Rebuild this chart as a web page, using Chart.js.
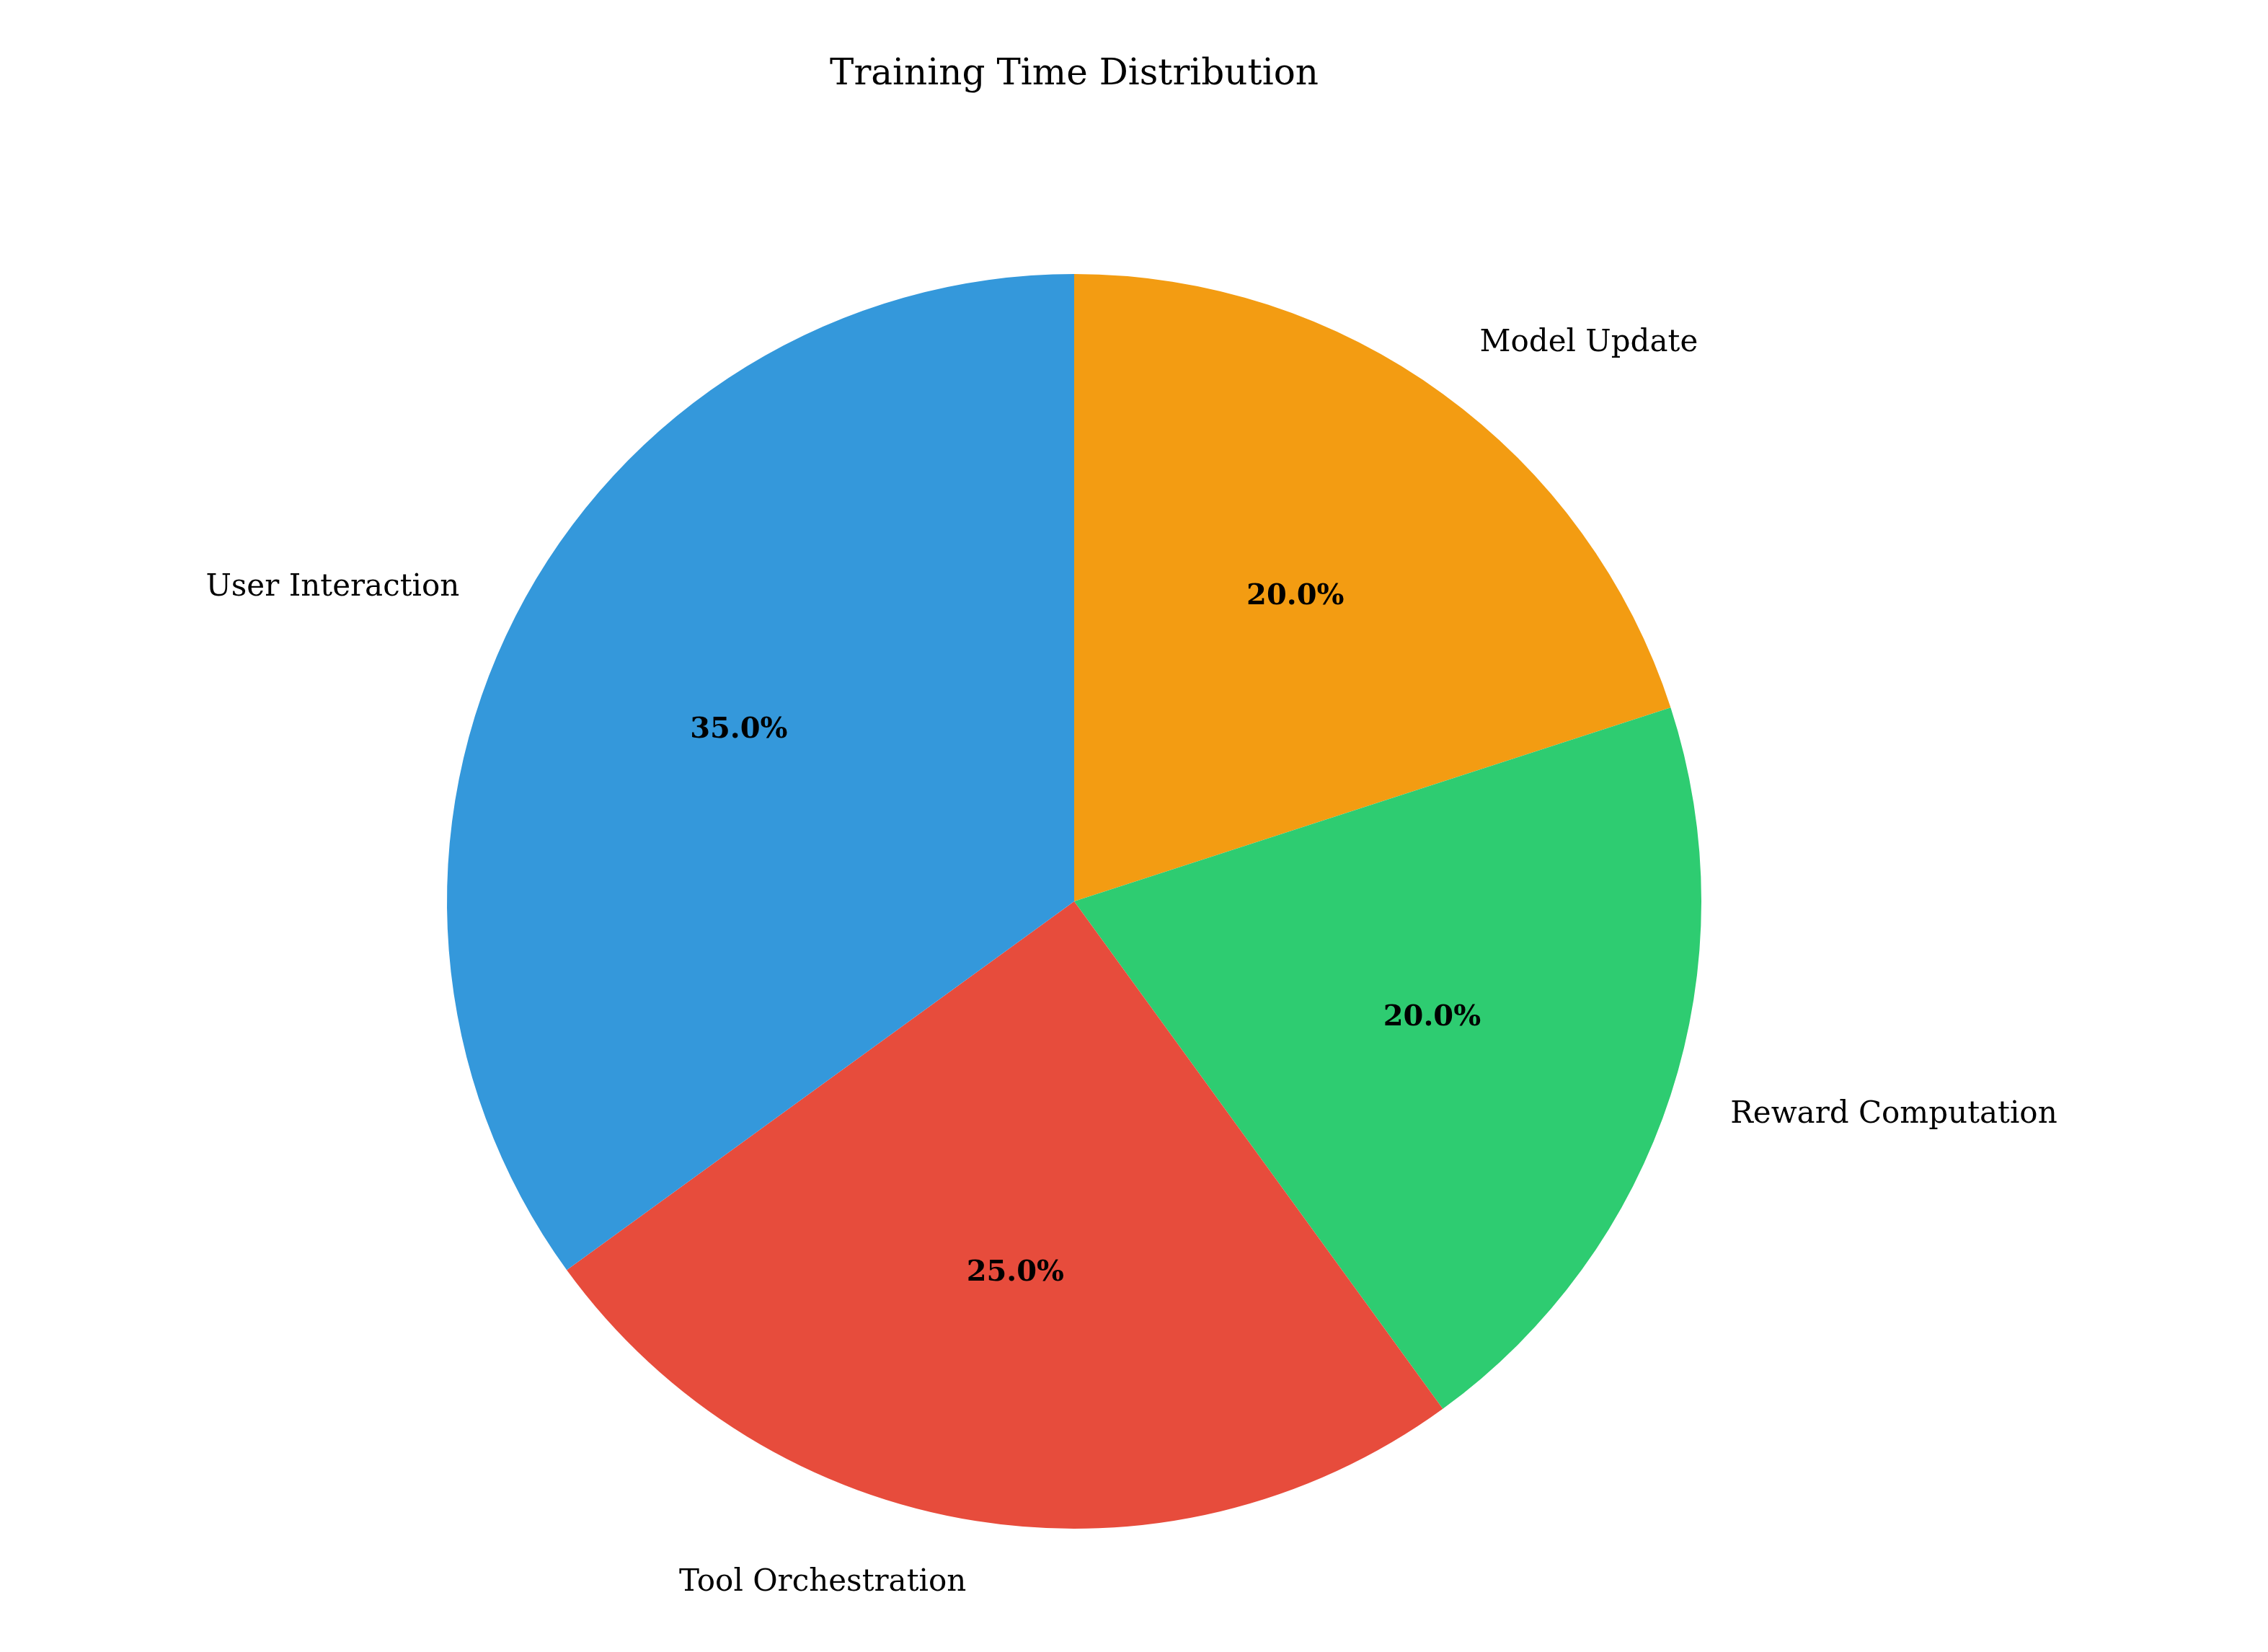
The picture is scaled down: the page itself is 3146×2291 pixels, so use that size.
<!DOCTYPE html>
<html>
<head>
<meta charset="utf-8">
<script src="https://cdn.jsdelivr.net/npm/chart.js@4"></script>
<style>
  html, body { margin: 0; padding: 0; background: #fff; }
  #wrap { width: 3146px; height: 2291px; position: relative; }
</style>
</head>
<body>
<div id="wrap"><canvas id="chart"></canvas></div>
<script>
// clockwise from the top, i.e. matplotlib's counter-clockwise order reversed
const categorias = ["Model Update", "Reward Computation", "Tool Orchestration", "User Interaction"];
const valores = [20, 20, 25, 35];
const colores = ["#f39c12", "#2ecc71", "#e74c3c", "#3498db"];
const titulo = "Training Time Distribution";

// Etiquetas y porcentajes al estilo matplotlib
const etiquetasPlugin = {
  id: "etiquetas",
  afterDatasetsDraw(chart) {
    const ctx = chart.ctx;
    const meta = chart.getDatasetMeta(0);
    const total = valores.reduce((a, b) => a + b, 0);
    ctx.save();
    meta.data.forEach((arc, i) => {
      const p = arc.getProps(["x", "y", "startAngle", "endAngle", "outerRadius"], true);
      const mid = (p.startAngle + p.endAngle) / 2;
      const cx = Math.cos(mid), cy = Math.sin(mid);

      // porcentaje
      ctx.fillStyle = "#000";
      ctx.font = "bold 40px 'DejaVu Serif'";
      ctx.textAlign = "center";
      ctx.textBaseline = "middle";
      const pct = (valores[i] / total * 100).toFixed(1) + "%";
      ctx.fillText(pct, p.x + cx * p.outerRadius * 0.6, p.y + cy * p.outerRadius * 0.6);

      // categoria
      ctx.font = "42px 'DejaVu Serif'";
      ctx.textAlign = cx >= 0 ? "left" : "right";
      ctx.fillText(categorias[i], p.x + cx * p.outerRadius * 1.1, p.y + cy * p.outerRadius * 1.1);
    });
    // titulo
    ctx.font = "50px 'DejaVu Serif'";
    ctx.textAlign = "center";
    ctx.textBaseline = "middle";
    ctx.fillText(titulo, 1490, 104);
    ctx.restore();
  }
};

new Chart(document.getElementById("chart"), {
  type: "pie",
  data: {
    labels: categorias,
    datasets: [{
      data: valores,
      backgroundColor: colores,
      borderWidth: 0,
    }],
  },
  options: {
    responsive: true,
    maintainAspectRatio: false,
    animation: false,
    layout: { padding: { top: 380, bottom: 171, left: 620, right: 786 } },
    plugins: {
      legend: { display: false },
      tooltip: { enabled: false },
    },
  },
  plugins: [etiquetasPlugin],
});
</script>
</body>
</html>
